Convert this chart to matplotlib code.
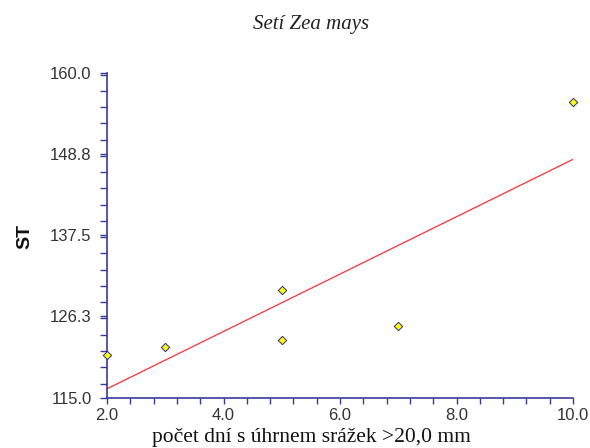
import numpy as np
import matplotlib
matplotlib.use("Agg")
import matplotlib.pyplot as plt
from matplotlib.ticker import MultipleLocator, FixedLocator


# -------------------------------------------------
# Data
# -------------------------------------------------

days = [2, 3, 5, 5, 7, 10]
st_values = [121, 122, 130, 123, 125, 156]

y_ticks = [115.0, 126.3, 137.5, 148.8, 160.0]
x_ticks = [2.0, 4.0, 6.0, 8.0, 10.0]

TITLE = "Setí Zea mays"
X_LABEL = "počet dní s úhrnem srážek >20,0 mm"
Y_LABEL = "ST"

AXIS_COLOR = "#3a3a9a"
TEXT_COLOR = "#333333"


# -------------------------------------------------
# Regression line
# -------------------------------------------------

slope, intercept = np.polyfit(days, st_values, 1)
line_x = np.array([min(days), max(days)])
line_y = slope * line_x + intercept


# -------------------------------------------------
# Plot
# -------------------------------------------------

fig = plt.figure(figsize=(5.9, 4.48), dpi=100)
ax = fig.add_axes([0.1814, 0.1116, 0.7898, 0.7261])

ax.plot(line_x, line_y, color="#ff3030", linewidth=0.9, zorder=2)

ax.scatter(
    days,
    st_values,
    marker="D",
    s=18,
    facecolor="#ffff00",
    edgecolor="#2b2b80",
    linewidth=0.7,
    zorder=3,
    clip_on=False
)

ax.set_xlim(2.0, 10.0)
ax.set_ylim(115.0, 160.0)

ax.xaxis.set_major_locator(FixedLocator(x_ticks))
ax.yaxis.set_major_locator(FixedLocator(y_ticks))
ax.xaxis.set_minor_locator(MultipleLocator(0.4))
ax.yaxis.set_minor_locator(MultipleLocator(2.25))

ax.set_xticklabels([f"{v:.1f}" for v in x_ticks])
ax.set_yticklabels([f"{v:.1f}" for v in y_ticks])

for side in ["top", "right"]:
    ax.spines[side].set_visible(False)

for side in ["left", "bottom"]:
    ax.spines[side].set_color(AXIS_COLOR)
    ax.spines[side].set_linewidth(1.2)

ax.tick_params(
    axis="both",
    which="both",
    direction="out",
    color=AXIS_COLOR,
    width=1.0,
    labelcolor=TEXT_COLOR,
    labelsize=12
)
ax.tick_params(axis="y", which="both", length=5)
ax.tick_params(axis="x", which="both", length=4, pad=3)
ax.tick_params(axis="y", which="major", pad=6)

for label in ax.get_xticklabels() + ax.get_yticklabels():
    label.set_family(["Liberation Sans", "DejaVu Sans"])

fig.text(
    311 / 590,
    1 - 25 / 448,
    TITLE,
    ha="center",
    va="center",
    fontsize=15,
    style="italic",
    family=["Liberation Serif", "DejaVu Serif"],
    color="#222222"
)

fig.text(
    311 / 590,
    1 - 437 / 448,
    X_LABEL,
    ha="center",
    va="center",
    fontsize=15.5,
    family=["Liberation Serif", "DejaVu Serif"],
    color="#111111"
)

fig.text(
    25 / 590,
    1 - 236 / 448,
    Y_LABEL,
    ha="center",
    va="center",
    rotation=90,
    fontsize=14,
    fontweight="bold",
    family=["Liberation Sans", "DejaVu Sans"],
    color="#111111"
)

fig.savefig("out.png", dpi=100)
plt.close(fig)
